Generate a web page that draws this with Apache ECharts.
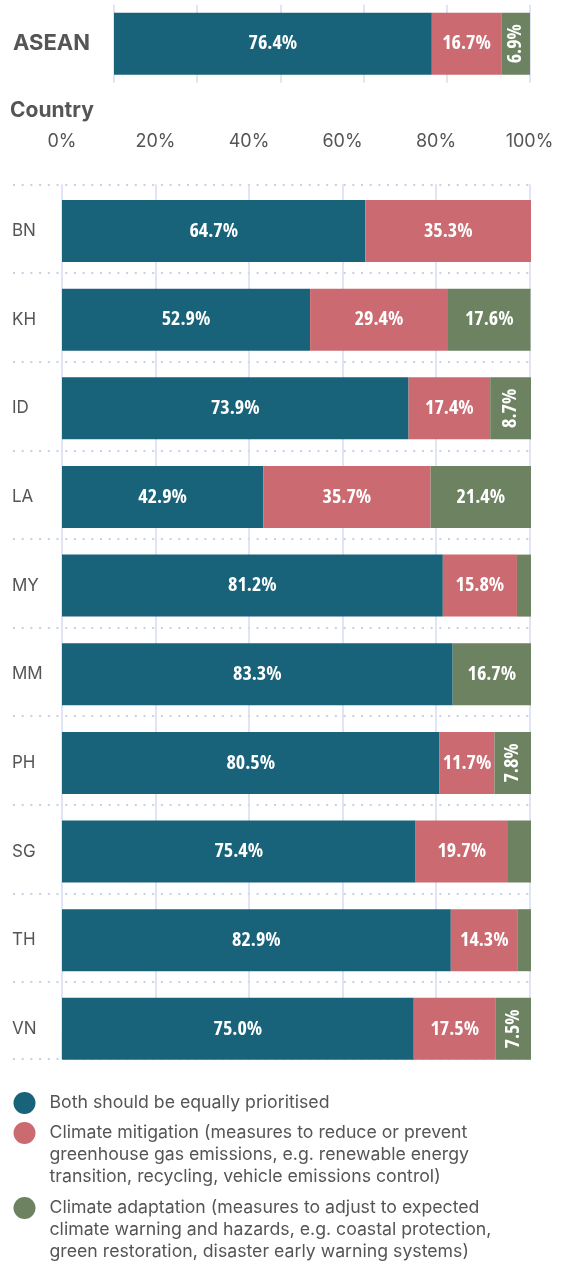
<!DOCTYPE html>
<html>
<head>
<meta charset="utf-8">
<script src="https://cdn.jsdelivr.net/npm/echarts@6/dist/echarts.min.js"></script>
<style>
  html, body { margin: 0; padding: 0; background: #ffffff; }
  #chart { width: 565px; height: 1261px; }
</style>
</head>
<body>
<div id="chart"></div>
<script>
// Regional total
const aseanCategory = ['ASEAN'];
const aseanBoth = [76.4];
const aseanMitigation = [16.7];
const aseanAdaptation = [6.9];

// Per-country breakdown (%)
const countries = ['BN', 'KH', 'ID', 'LA', 'MY', 'MM', 'PH', 'SG', 'TH', 'VN'];
const bothPrioritised = [64.7, 52.9, 73.9, 42.9, 81.2, 83.3, 80.5, 75.4, 82.9, 75.0];
const mitigation = [35.3, 29.4, 17.4, 35.7, 15.8, 0, 11.7, 19.7, 14.3, 17.5];
const adaptation = [0, 17.6, 8.7, 21.4, 3.0, 16.7, 7.8, 4.9, 2.8, 7.5];

const percentTicks = [0, 20, 40, 60, 80, 100];

const seriesNames = ['both', 'mitigation', 'adaptation'];
const legendLines = {
  both: ['Both should be equally prioritised'],
  mitigation: [
    'Climate mitigation (measures to reduce or prevent',
    'greenhouse gas emissions, e.g. renewable energy',
    'transition, recycling, vehicle emissions control)'
  ],
  adaptation: [
    'Climate adaptation (measures to adjust to expected',
    'climate warning and hazards, e.g. coastal protection,',
    'green restoration, disaster early warning systems)'
  ]
};

const COLORS = { both: '#18637a', mitigation: '#cb6b71', adaptation: '#6d8260' };
const TEXT = '#555555';
const GRID_LINE = '#d6dbf0';
const SANS = 'Inter, Roboto, "Liberation Sans", sans-serif';
const NARROW = '"Open Sans", "DejaVu Sans", Roboto, sans-serif';

// layout of the country rows
const rowTop = 184.3;        // first row separator
const rowPitch = 88.65;      // distance between rows
const rowBottom = 1059;      // closing rule under the last bar
const barHeight = 62;
const barGap = 15.7;         // space between a separator and the bar below it
const bandTop = rowTop + barGap + barHeight / 2 - rowPitch / 2;
const legendLineHeight = 22;

// narrow segments get a vertical label, very narrow ones none
function segmentData(values) {
  return values.map(v => {
    if (v < 6) return { value: v, label: { show: false } };
    if (v < 10) return { value: v, label: { rotate: 90 } };
    return { value: v };
  });
}

const barLabel = {
  show: true,
  position: 'inside',
  color: '#ffffff',
  fontFamily: NARROW,
  fontStyle: 'condensed',
  fontWeight: 'bold',
  fontSize: 20,
  formatter: p => p.value.toFixed(1) + '%'
};

function stackSeries(name, values, xAxisIndex, yAxisIndex, stack) {
  return {
    type: 'bar',
    name: name,
    stack: stack,
    xAxisIndex: xAxisIndex,
    yAxisIndex: yAxisIndex,
    barWidth: barHeight,
    itemStyle: { color: COLORS[name] },
    label: barLabel,
    emphasis: { disabled: true },
    data: segmentData(values)
  };
}

// The legend centres its text on the marker; blank lines in front of a
// wrapped entry keep the marker level with the entry's first line.
function legendFor(name, markerY) {
  const lines = legendLines[name];
  const lead = new Array(lines.length - 1).fill('');
  return {
    data: [name],
    orient: 'vertical',
    left: 13.5,
    top: markerY - (lines.length - 1) * legendLineHeight - legendLineHeight / 2,
    padding: 0,
    itemWidth: 40,
    itemHeight: 22,
    icon: 'circle',
    selectedMode: false,
    formatter: () => lead.concat(lines).join('\n'),
    textStyle: {
      color: TEXT,
      fontFamily: SANS,
      fontSize: 17.7,
      lineHeight: legendLineHeight
    }
  };
}

const chart = echarts.init(document.getElementById('chart'), null, { renderer: 'canvas' });

chart.setOption({
  animation: false,
  backgroundColor: '#ffffff',
  title: {
    text: 'Country',
    left: 10,
    top: 99,
    padding: 0,
    textStyle: { color: TEXT, fontFamily: SANS, fontSize: 21, fontWeight: 'bold', lineHeight: 24 }
  },
  legend: [
    legendFor('both', 1103),
    legendFor('mitigation', 1133),
    legendFor('adaptation', 1208)
  ],
  grid: [
    // ASEAN bar
    { left: 114, right: 35, top: 4.7, height: 78 },
    // vertical percentage gridlines + top axis labels
    { left: 62, right: 35.5, top: rowTop, bottom: 1261 - rowBottom },
    // dotted row separators
    { left: 13, right: 35, top: rowTop, bottom: 1261 - rowBottom },
    // country bars
    { left: 62, right: 34, top: bandTop, height: rowPitch * countries.length }
  ],
  xAxis: [
    {
      gridIndex: 0, type: 'value', min: 0, max: 100, interval: 20,
      axisLine: { show: false }, axisTick: { show: false }, axisLabel: { show: false },
      splitLine: { show: true, lineStyle: { color: GRID_LINE, width: 1.5 } }
    },
    {
      gridIndex: 1, type: 'value', position: 'top',
      min: percentTicks[0], max: percentTicks[percentTicks.length - 1], interval: percentTicks[1] - percentTicks[0],
      axisLine: { show: false },
      axisTick: { show: true, length: 28, lineStyle: { color: GRID_LINE, width: 1.5 } },
      axisLabel: { show: true, margin: 34, color: TEXT, fontFamily: SANS, fontSize: 18, formatter: '{value}%' },
      splitLine: { show: true, lineStyle: { color: GRID_LINE, width: 1.5 } }
    },
    { gridIndex: 2, type: 'value', show: false, min: 0, max: 1 },
    { gridIndex: 3, type: 'value', show: false, min: 0, max: 100 }
  ],
  yAxis: [
    {
      gridIndex: 0, type: 'category', data: aseanCategory,
      axisLine: { show: false }, axisTick: { show: false },
      axisLabel: { margin: 24, padding: [4, 0, 0, 0], color: TEXT, fontFamily: SANS, fontSize: 22, fontWeight: 'bold' }
    },
    { gridIndex: 1, type: 'value', show: false },
    {
      gridIndex: 2, type: 'value', inverse: true,
      min: 0, max: (rowBottom - rowTop) / rowPitch, interval: 1,
      axisLine: { show: false }, axisTick: { show: false }, axisLabel: { show: false },
      splitLine: { show: true, lineStyle: { color: '#c8cfea', width: 2, type: [2, 6.7] } }
    },
    {
      gridIndex: 3, type: 'category', data: countries, inverse: true,
      axisLine: { show: false }, axisTick: { show: false },
      axisLabel: { align: 'left', margin: 50, color: TEXT, fontFamily: SANS, fontSize: 17 }
    }
  ],
  series: [
    stackSeries('both', aseanBoth, 0, 0, 'asean'),
    stackSeries('mitigation', aseanMitigation, 0, 0, 'asean'),
    stackSeries('adaptation', aseanAdaptation, 0, 0, 'asean'),
    stackSeries('both', bothPrioritised, 3, 3, 'country'),
    stackSeries('mitigation', mitigation, 3, 3, 'country'),
    stackSeries('adaptation', adaptation, 3, 3, 'country')
  ]
});
</script>
</body>
</html>
